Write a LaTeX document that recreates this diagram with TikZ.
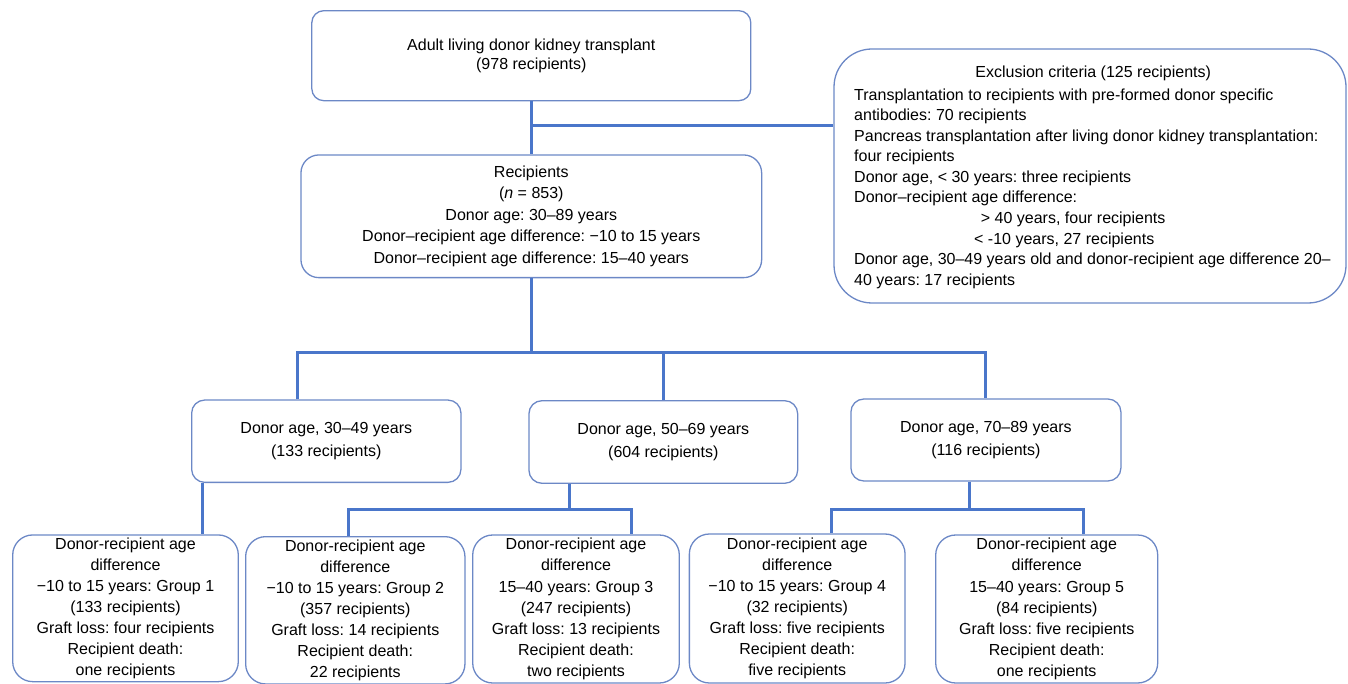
\documentclass[tikz,border=0pt]{standalone}
\usepackage{fontspec}
\setmainfont{Liberation Sans}
\frenchspacing
\definecolor{boxc}{RGB}{108,136,198}
\definecolor{linec}{RGB}{74,118,202}
\tikzset{
  box/.style={draw=boxc, line width=1.3pt, rounded corners=#1, inner sep=0pt, align=center},
  box/.default=13pt,
  conn/.style={draw=linec, line width=3pt},
  fs/.style={font={\fontsize{16}{#1}\selectfont\frenchspacing}}
}
\begin{document}
\begin{tikzpicture}[x=1pt,y=-1pt]
\useasboundingbox (0,0) rectangle (1348,684);

% boxes
\node[box=12pt, fs=19, minimum width=439pt, minimum height=90pt] (top) at (531.3,55.7)
  {Adult living donor kidney transplant\\(978 recipients)};
\node[box=18pt, fs=21.5, minimum width=460.7pt, minimum height=122.7pt] (recip) at (531.3,216.3)
  {Recipients\\(\textit{n} = 853)\\Donor age: 30–89 years\\Donor–recipient age difference: −10 to 15 years\\Donor–recipient age difference: 15–40 years};
\node[box=38pt, minimum width=512pt, minimum height=254pt] (excl) at (1090,176) {};
\node[fs=20.55, anchor=west, align=left, inner sep=0pt] (excltext) at (854,177)
  {\makebox[478pt]{Exclusion criteria (125 recipients)}\\[2.5pt]
   Transplantation to recipients with pre-formed donor specific\\
   antibodies: 70 recipients\\
   Pancreas transplantation after living donor kidney transplantation:\\
   four recipients\\
   Donor age, < 30 years: three recipients\\
   Donor–recipient age difference:\\
   \hspace*{126.7pt}> 40 years, four recipients\\
   \hspace*{120pt}< -10 years, 27 recipients\\
   Donor age, 30–49 years old and donor-recipient age difference 20–\\
   40 years: 17 recipients};

\node[box=13pt, fs=23.3, minimum width=269.3pt, minimum height=82.3pt] (A) at (326.3,441.2)
  {Donor age, 30–49 years\\(133 recipients)};
\node[box=13pt, fs=23.3, minimum width=268.7pt, minimum height=82.6pt] (B) at (663.3,442)
  {Donor age, 50–69 years\\(604 recipients)};
\node[box=13pt, fs=23.3, minimum width=270pt, minimum height=82pt] (C) at (985.9,440)
  {Donor age, 70–89 years\\(116 recipients)};

\node[box=20pt, fs=21.1, minimum width=225.6pt, minimum height=146.7pt] (g1) at (125.5,608.3)
  {Donor-recipient age\\difference\\−10 to 15 years: Group 1\\(133 recipients)\\Graft loss: four recipients\\Recipient death:\\one recipients};
\node[box=20pt, fs=21.1, minimum width=219.3pt, minimum height=147.3pt] (g2) at (355.3,610.3)
  {Donor-recipient age\\difference\\−10 to 15 years: Group 2\\(357 recipients)\\Graft loss: 14 recipients\\Recipient death:\\22 recipients};
\node[box=20pt, fs=21.1, minimum width=206.6pt, minimum height=148pt] (g3) at (576,609)
  {Donor-recipient age\\difference\\15–40 years: Group 3\\(247 recipients)\\Graft loss: 13 recipients\\Recipient death:\\two recipients};
\node[box=20pt, fs=21.1, minimum width=215.7pt, minimum height=149pt] (g4) at (797.2,608.5)
  {Donor-recipient age\\difference\\−10 to 15 years: Group 4\\(32 recipients)\\Graft loss: five recipients\\Recipient death:\\five recipients};
\node[box=20pt, fs=21.1, minimum width=222pt, minimum height=148pt] (g5) at (1046.7,609)
  {Donor-recipient age\\difference\\15–40 years: Group 5\\(84 recipients)\\Graft loss: five recipients\\Recipient death:\\one recipients};

% junction coordinates
\coordinate (j1) at (531.3,126);
\coordinate (hl) at (297,352);
\coordinate (hr) at (985.9,352);
\coordinate (av) at (202,482);
\coordinate (bl) at (348,509.5);
\coordinate (br) at (631,509.5);
\coordinate (cl) at (831,509);
\coordinate (cr) at (1083,509);
\coordinate (bv) at (569.5,509.5);
\coordinate (cv) at (969,509);

% connectors
\draw[conn] (top.south) -- (recip.north);
\draw[conn] (j1) -- (j1 -| excl.west);
\draw[conn] (recip.south) -- (recip.south |- hl);
\draw[conn] (A.north -| hl) -- (hl) -- (hr) -- (C.north);
\draw[conn] (B.north) -- (B.north |- hl);
\draw[conn] (A.south -| av) -- (g1.north -| av);
\draw[conn] (B.south -| bv) -- (bv);
\draw[conn] (g2.north -| bl) -- (bl) -- (br) -- (g3.north -| br);
\draw[conn] (C.south -| cv) -- (cv);
\draw[conn] (g4.north -| cl) -- (cl) -- (cr) -- (g5.north -| cr);
\end{tikzpicture}
\end{document}
